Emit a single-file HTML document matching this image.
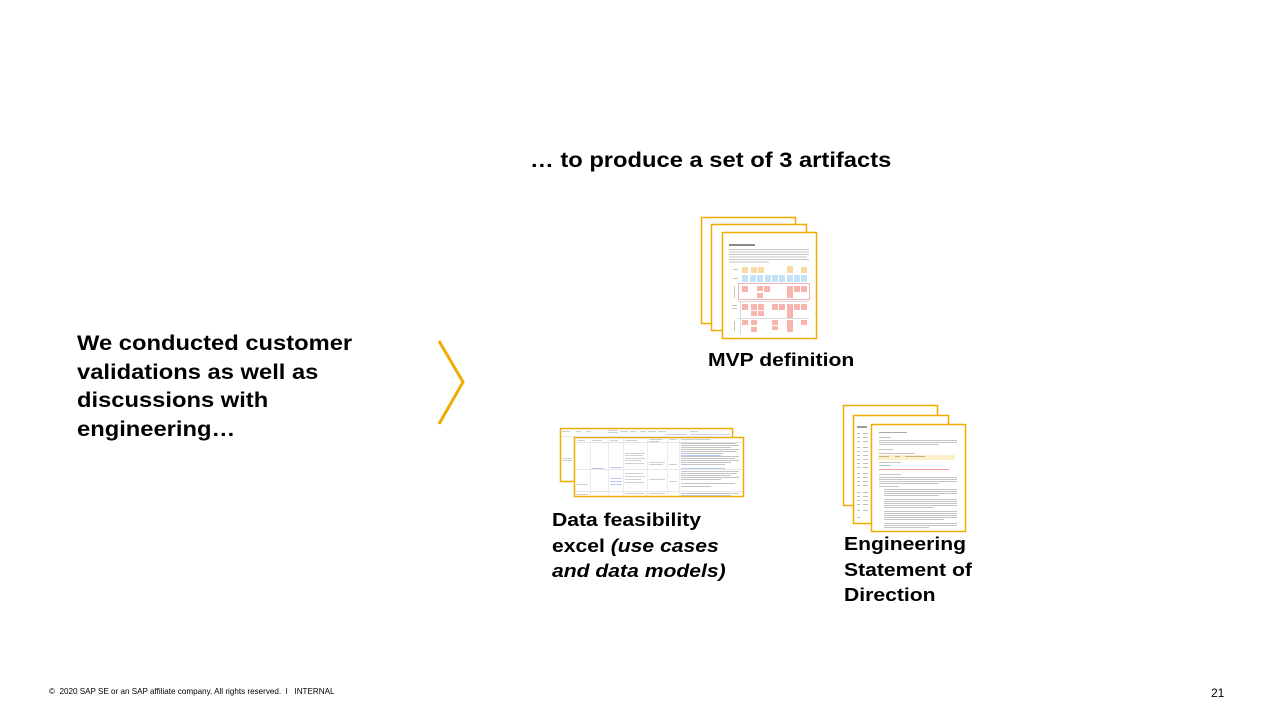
<!DOCTYPE html>
<html><head><meta charset="utf-8">
<style>
html,body{margin:0;padding:0;background:#fff;}
body{width:1279px;height:719px;overflow:hidden;position:relative;font-family:"Liberation Sans",Arial,sans-serif;color:#000;}
.t{position:absolute;white-space:nowrap;font-weight:bold;transform:scaleX(1.13);transform-origin:0 0;}
.big{font-size:21px;line-height:28.7px;}
.mid{font-size:18.7px;line-height:25.6px;}
svg{position:absolute;left:0;top:0;}
</style></head>
<body>
<svg width="1279" height="719" viewBox="0 0 1279 719">
  <!-- chevron -->
  <polyline points="439,341 463,382 439,424" fill="none" stroke="#f0ab00" stroke-width="3"/>

  <!-- MVP stack -->
  <g stroke="#f0ab00" stroke-width="1.5" fill="#fff">
    <rect x="701.5" y="217.5" width="94" height="106"/>
    <rect x="711.5" y="224.5" width="95" height="106"/>
    <rect x="722.5" y="232.5" width="94" height="106"/>
  </g>
  <g>
    <rect x="729" y="244" width="26" height="2" fill="#8a8a8a"/>
    <g fill="#c4c4c4">
      <rect x="729" y="249" width="80" height="1"/>
      <rect x="729" y="251.5" width="80" height="1"/>
      <rect x="729" y="254" width="80" height="1"/>
      <rect x="729" y="256.5" width="78" height="1"/>
      <rect x="729" y="259" width="80" height="1"/>
      <rect x="729" y="261.5" width="40" height="1"/>
      <rect x="733" y="269" width="5" height="1"/>
      <rect x="733" y="278" width="5" height="1"/>
      <rect x="734" y="286" width="1" height="12"/>
      <rect x="732" y="305" width="5" height="1"/>
      <rect x="732" y="308" width="5" height="1"/>
      <rect x="734" y="321" width="1" height="10"/>
    </g>
    <g fill="#fbd9a6">
      <rect x="742" y="267" width="6" height="6"/>
      <rect x="751" y="267" width="6" height="6"/>
      <rect x="758" y="267" width="6" height="6"/>
      <rect x="787" y="266" width="6" height="7"/>
      <rect x="801" y="267" width="6" height="6"/>
    </g>
    <g fill="#c4e2f6">
      <rect x="742" y="275" width="6" height="7"/>
      <rect x="750" y="275" width="6" height="7"/>
      <rect x="757" y="275" width="6" height="7"/>
      <rect x="765" y="275" width="6" height="7"/>
      <rect x="772" y="275" width="6" height="7"/>
      <rect x="779" y="275" width="6" height="7"/>
      <rect x="787" y="275" width="6" height="7"/>
      <rect x="794" y="275" width="6" height="7"/>
      <rect x="801" y="275" width="6" height="7"/>
    </g>
    <rect x="738.5" y="283.5" width="71" height="16" fill="none" stroke="#f4b4b4" stroke-width="1"/>
    <g fill="#f8b5ae">
      <rect x="742" y="286" width="6" height="6"/>
      <rect x="757" y="286" width="6" height="5"/>
      <rect x="757" y="293" width="6" height="5"/>
      <rect x="764" y="286" width="6" height="6"/>
      <rect x="787" y="286" width="6" height="12"/>
      <rect x="794" y="286" width="6" height="6"/>
      <rect x="801" y="286" width="6" height="6"/>

      <rect x="742" y="304" width="6" height="6"/>
      <rect x="751" y="304" width="6" height="6"/>
      <rect x="758" y="304" width="6" height="6"/>
      <rect x="751" y="311" width="6" height="5"/>
      <rect x="758" y="311" width="6" height="5"/>
      <rect x="772" y="304" width="6" height="6"/>
      <rect x="779" y="304" width="6" height="6"/>
      <rect x="787" y="304" width="6" height="14"/>
      <rect x="794" y="304" width="6" height="6"/>
      <rect x="801" y="304" width="6" height="6"/>

      <rect x="742" y="320" width="6" height="5"/>
      <rect x="751" y="320" width="6" height="5"/>
      <rect x="751" y="327" width="6" height="5"/>
      <rect x="772" y="320" width="6" height="5"/>
      <rect x="772" y="326" width="6" height="4"/>
      <rect x="787" y="320" width="6" height="12"/>
      <rect x="801" y="320" width="6" height="5"/>
    </g>
    <g fill="#dcdcdc">
      <rect x="738" y="301" width="71" height="1"/>
      <rect x="738" y="318" width="71" height="1"/>
      <rect x="740" y="302" width="1" height="32"/>
    </g>
  </g>

  <!-- Excel stack -->
  <g stroke="#f0ab00" stroke-width="1.5" fill="#fff">
    <rect x="560.5" y="428.5" width="172" height="53"/>
    <rect x="574.5" y="437.5" width="169" height="59"/>
  </g>
  <g fill="#d0d0d0">
    <rect x="562" y="431" width="8" height="1"/>
    <rect x="576" y="431" width="5" height="1"/>
    <rect x="586" y="431" width="5" height="1"/>
    <rect x="608" y="430" width="10" height="1"/>
    <rect x="608" y="432" width="10" height="1"/>
    <rect x="620" y="431" width="8" height="1"/>
    <rect x="630" y="431" width="6" height="1"/>
    <rect x="640" y="431" width="6" height="1"/>
    <rect x="648" y="431" width="8" height="1"/>
    <rect x="658" y="431" width="8" height="1"/>
    <rect x="690" y="431" width="8" height="1"/>
    <rect x="665" y="434" width="22" height="1"/>
    <rect x="690" y="434" width="40" height="1"/>
    <rect x="562" y="458" width="10" height="1"/>
    <rect x="562" y="460" width="10" height="1"/>
    <rect x="561" y="436" width="171" height="1" fill="#e4e4e4"/>
    <rect x="575" y="442" width="168" height="1" fill="#e2e2e2"/>
    <rect x="575" y="469" width="168" height="1" fill="#e6e6e6"/>
    <rect x="575" y="491" width="168" height="1" fill="#e6e6e6"/>
    <rect x="590" y="438" width="1" height="58" fill="#ececec"/>
    <rect x="608" y="438" width="1" height="58" fill="#ececec"/>
    <rect x="623" y="438" width="1" height="58" fill="#ececec"/>
    <rect x="647" y="438" width="1" height="58" fill="#ececec"/>
    <rect x="667" y="438" width="1" height="58" fill="#ececec"/>
    <rect x="679" y="438" width="1" height="58" fill="#ececec"/>
    <rect x="577" y="440" width="8" height="1"/>
    <rect x="592" y="440" width="10" height="1"/>
    <rect x="610" y="440" width="8" height="1"/>
    <rect x="625" y="440" width="12" height="1"/>
    <rect x="649" y="439" width="14" height="1"/>
    <rect x="649" y="441" width="10" height="1"/>
    <rect x="669" y="439" width="8" height="1"/>
    <rect x="681" y="439" width="30" height="1"/>
    <rect x="625" y="453" width="20" height="1"/>
    <rect x="625" y="455" width="18" height="1"/>
    <rect x="625" y="458" width="20" height="1"/>
    <rect x="625" y="460" width="16" height="1"/>
    <rect x="625" y="463" width="19" height="1"/>
    <rect x="649" y="462" width="16" height="1"/>
    <rect x="649" y="464" width="14" height="1"/>
    <rect x="669" y="464" width="8" height="1"/>
    <rect x="625" y="473" width="18" height="1"/>
    <rect x="625" y="476" width="20" height="1"/>
    <rect x="625" y="479" width="16" height="1"/>
    <rect x="625" y="482" width="19" height="1"/>
    <rect x="649" y="479" width="16" height="1"/>
    <rect x="669" y="481" width="8" height="1"/>
    <rect x="625" y="493" width="19" height="1"/>
    <rect x="649" y="493" width="16" height="1"/>
    <rect x="576" y="484" width="12" height="1"/>
    <rect x="576" y="494" width="12" height="1"/>
  </g>
  <g fill="#c4c4c4">
    <rect x="681" y="443" width="56" height="1"/>
    <rect x="681" y="445" width="58" height="1"/>
    <rect x="681" y="447" width="50" height="1"/>
    <rect x="681" y="449" width="58" height="1"/>
    <rect x="681" y="451" width="56" height="1"/>
    <rect x="681" y="453" width="42" height="1"/>
    <rect x="681" y="456" width="58" height="1"/>
    <rect x="681" y="458" width="54" height="1"/>
    <rect x="681" y="460" width="58" height="1"/>
    <rect x="681" y="462" width="50" height="1"/>
    <rect x="681" y="464" width="44" height="1"/>
    <rect x="681" y="471" width="58" height="1"/>
    <rect x="681" y="473" width="56" height="1"/>
    <rect x="681" y="475" width="50" height="1"/>
    <rect x="681" y="477" width="58" height="1"/>
    <rect x="681" y="479" width="40" height="1"/>
    <rect x="681" y="483" width="54" height="1"/>
    <rect x="681" y="486" width="30" height="1"/>
    <rect x="681" y="493" width="58" height="1"/>
    <rect x="681" y="495" width="50" height="1"/>
  </g>
  <g fill="#b9c8f0">
    <rect x="592" y="468" width="12" height="1"/>
    <rect x="610" y="467" width="12" height="1"/>
    <rect x="610" y="478" width="12" height="1"/>
    <rect x="610" y="481" width="12" height="1"/>
    <rect x="610" y="484" width="12" height="1"/>
    <rect x="681" y="455" width="40" height="1"/>
    <rect x="681" y="468" width="44" height="1"/>
  </g>

  <!-- Engineering stack -->
  <g stroke="#f0ab00" stroke-width="1.5" fill="#fff">
    <rect x="843.5" y="405.5" width="94" height="100"/>
    <rect x="853.5" y="415.5" width="95" height="108"/>
    <rect x="871.5" y="424.5" width="94" height="107"/>
  </g>
  <g fill="#bdbdbd">
    <rect x="857" y="426" width="10" height="2" fill="#999"/>
    <rect x="857" y="433" width="3" height="1"/><rect x="863" y="433" width="5" height="1"/>
    <rect x="857" y="437" width="3" height="1"/><rect x="863" y="437" width="5" height="1"/>
    <rect x="857" y="441" width="3" height="1"/><rect x="863" y="441" width="5" height="1"/>
    <rect x="857" y="447" width="3" height="1"/><rect x="863" y="447" width="5" height="1"/>
    <rect x="857" y="451" width="3" height="1"/><rect x="863" y="451" width="5" height="1"/>
    <rect x="857" y="455" width="3" height="1"/><rect x="863" y="455" width="5" height="1"/>
    <rect x="857" y="459" width="3" height="1"/><rect x="863" y="459" width="5" height="1"/>
    <rect x="857" y="463" width="3" height="1"/><rect x="863" y="463" width="5" height="1"/>
    <rect x="857" y="467" width="3" height="1"/><rect x="863" y="467" width="5" height="1"/>
    <rect x="857" y="473" width="3" height="1"/><rect x="863" y="473" width="5" height="1"/>
    <rect x="857" y="477" width="3" height="1"/><rect x="863" y="477" width="5" height="1"/>
    <rect x="857" y="481" width="3" height="1"/><rect x="863" y="481" width="5" height="1"/>
    <rect x="857" y="485" width="3" height="1"/><rect x="863" y="485" width="5" height="1"/>
    <rect x="857" y="492" width="3" height="1"/><rect x="863" y="492" width="5" height="1"/>
    <rect x="857" y="496" width="3" height="1"/><rect x="863" y="496" width="5" height="1"/>
    <rect x="857" y="500" width="3" height="1"/><rect x="863" y="500" width="5" height="1"/>
    <rect x="857" y="504" width="3" height="1"/><rect x="863" y="504" width="5" height="1"/>
    <rect x="857" y="510" width="3" height="1"/><rect x="863" y="510" width="5" height="1"/>
    <rect x="857" y="517" width="3" height="1"/>
  </g>
  <g fill="#c4c4c4">
    <rect x="879" y="432" width="28" height="1" fill="#a8a8a8"/>
    <rect x="879" y="437" width="12" height="1"/>
    <rect x="879" y="440" width="78" height="1"/>
    <rect x="879" y="442" width="78" height="1"/>
    <rect x="879" y="444" width="60" height="1"/>
    <rect x="879" y="449" width="14" height="1"/>
    <rect x="879" y="453" width="36" height="1"/>
    <rect x="879" y="462" width="22" height="1"/>
    <rect x="879" y="465" width="12" height="1"/>
    <rect x="879" y="474" width="22" height="1"/>
    <rect x="879" y="477" width="78" height="1"/>
    <rect x="879" y="479" width="78" height="1"/>
    <rect x="879" y="481" width="78" height="1"/>
    <rect x="879" y="483" width="60" height="1"/>
    <rect x="879" y="486" width="20" height="1"/>
    <rect x="884" y="489" width="73" height="1"/>
    <rect x="884" y="491" width="73" height="1"/>
    <rect x="884" y="493" width="73" height="1"/>
    <rect x="884" y="495" width="55" height="1"/>
    <rect x="884" y="499" width="73" height="1"/>
    <rect x="884" y="501" width="73" height="1"/>
    <rect x="884" y="503" width="73" height="1"/>
    <rect x="884" y="505" width="73" height="1"/>
    <rect x="884" y="507" width="50" height="1"/>
    <rect x="884" y="511" width="73" height="1"/>
    <rect x="884" y="513" width="73" height="1"/>
    <rect x="884" y="515" width="73" height="1"/>
    <rect x="884" y="517" width="73" height="1"/>
    <rect x="884" y="519" width="60" height="1"/>
    <rect x="884" y="523" width="73" height="1"/>
    <rect x="884" y="525" width="73" height="1"/>
    <rect x="884" y="527" width="45" height="1"/>
  </g>
  <rect x="878" y="455" width="77" height="5" fill="#fdefc9"/>
  <rect x="879" y="456" width="10" height="1" fill="#c8b080"/>
  <rect x="895" y="456" width="5" height="1" fill="#c8b080"/>
  <rect x="905" y="456" width="20" height="1" fill="#c8b080"/>
  <rect x="879" y="469" width="70" height="1" fill="#f79a9a"/>
</svg>

<div class="t big" style="left:530px;top:147px;">… to produce a set of 3 artifacts</div>
<div class="t big" style="left:77px;top:330px;">We conducted customer<br>validations as well as<br>discussions with<br>engineering…</div>
<div class="t mid" style="left:708px;top:347px;">MVP definition</div>
<div class="t mid" style="left:552px;top:507px;">Data feasibility<br>excel <i>(use cases</i><br><i>and data models)</i></div>
<div class="t mid" style="left:844px;top:531px;">Engineering<br>Statement of<br>Direction</div>

<div style="position:absolute;left:49px;top:687px;font-size:8.1px;line-height:10px;white-space:nowrap;color:#000;">©&nbsp; 2020 SAP SE or an SAP affiliate company. All rights reserved.&nbsp; ǀ&nbsp;&nbsp; INTERNAL</div>
<div style="position:absolute;left:1211px;top:686px;font-size:12px;line-height:14px;white-space:nowrap;color:#000;">21</div>
</body></html>
